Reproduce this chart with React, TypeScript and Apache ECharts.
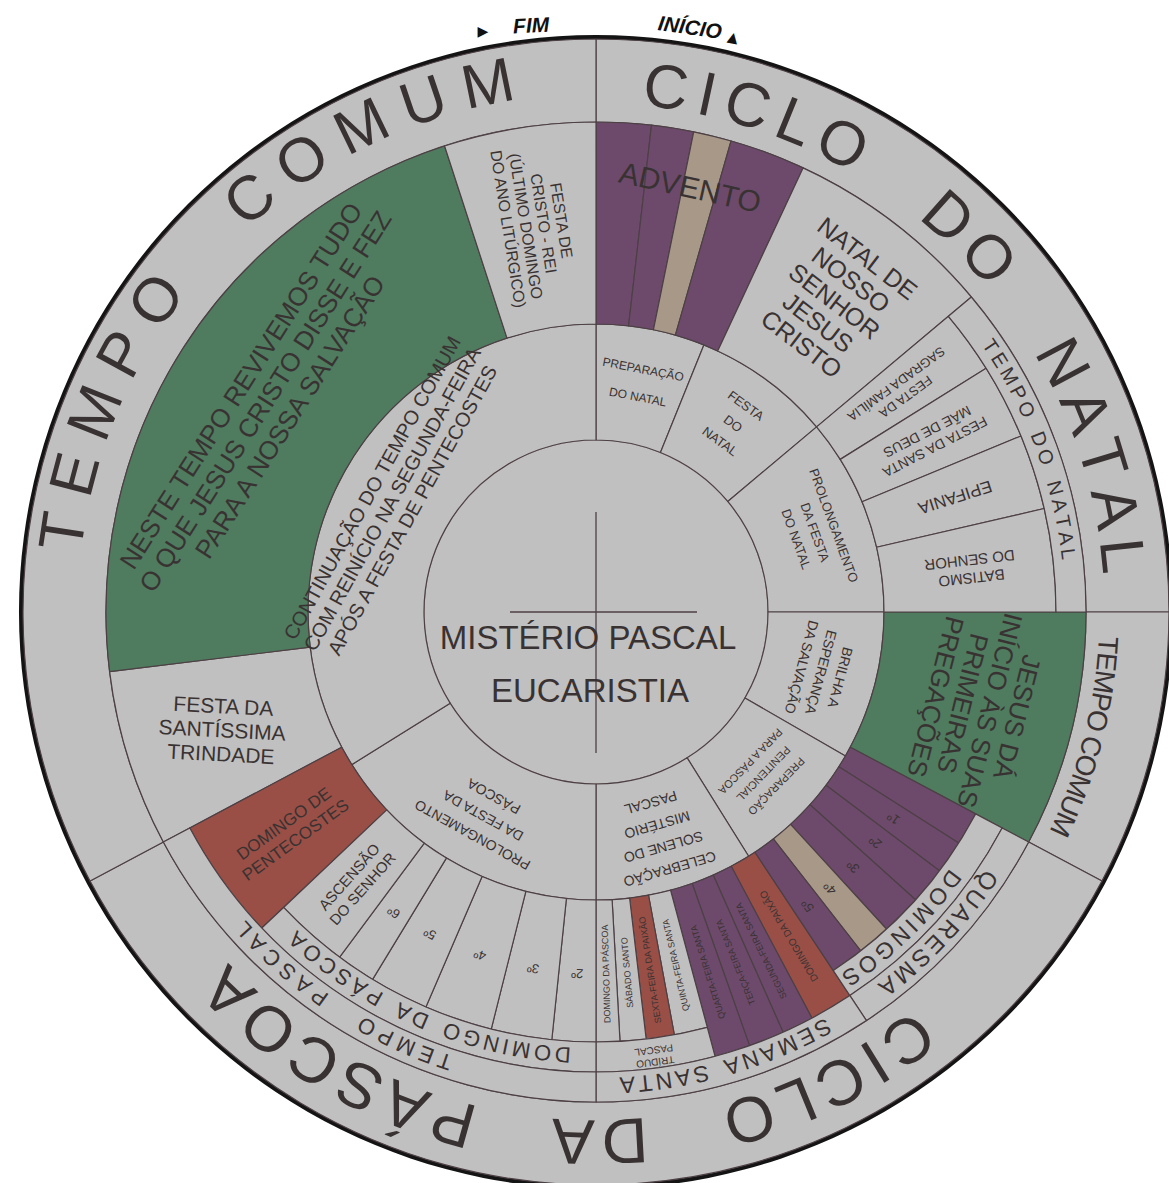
import React, { useEffect, useRef } from "react";
import * as echarts from "echarts";

// ---------------- DATA (angles in degrees, clockwise from the top) ----------------
const ring2Bounds = [0, 22, 50, 90, 120, 148, 180, 238, 360];
const ring2Labels = [
  "PREPARAÇÃO\nDO NATAL",
  "FESTA\nDO\nNATAL",
  "PROLONGAMENTO\nDA FESTA\nDO NATAL",
  "BRILHA A\nESPERANÇA\nDA SALVAÇÃO",
  "PREPARAÇÃO\nPENITENCIAL\nPARA A PÁSCOA",
  "CELEBRAÇÃO\nSOLENE DO\nMISTÉRIO\nPASCAL",
  "PROLONGAMENTO\nDA FESTA DA\nPÁSCOA",
  "CONTINUAÇÃO DO TEMPO COMUM\nCOM REINÍCIO NA SEGUNDA-FEIRA\nAPÓS A FESTA DE PENTECOSTES",
];

const mainBounds = [0, 6.5, 11.5, 16, 25, 50, 90, 118, 242, 263, 342, 360];
const mainLabels = [
  "", "", "", "",
  "NATAL DE\nNOSSO\nSENHOR\nJESUS\nCRISTO",
  null,
  "JESUS DÁ\nINÍCIO ÀS SUAS\nPRIMEIRAS\nPREGAÇÕES",
  null,
  "FESTA DA\nSANTÍSSIMA\nTRINDADE",
  "NESTE TEMPO REVIVEMOS TUDO\nO QUE JESUS CRISTO DISSE E FEZ\nPARA A NOSSA SALVAÇÃO",
  "FESTA DE\nCRISTO - REI\n(ÚLTIMO DOMINGO\nDO ANO LITÚRGICO)",
];

const adventBounds = [0, 25, 360];
const adventLabels = ["ADVENTO", null];

const longBounds = [0, 50, 58, 67.5, 77, 90, 146.5, 152, 156, 160.5, 165, 226.6, 242, 360];
const longLabels = [
  null,
  "FESTA DA\nSAGRADA FAMÍLIA",
  "FESTA DA SANTA\nMÃE DE DEUS",
  "EPIFANIA",
  "BATISMO\nDO SENHOR",
  null,
  "DOMINGO DA PAIXÃO",
  "SEGUNDA-FEIRA SANTA",
  "TERÇA-FEIRA SANTA",
  "QUARTA-FEIRA SANTA",
  null,
  "DOMINGO DE\nPENTECOSTES",
  null,
];

const shortBounds = [0, 118, 122.5, 127, 132, 137.5, 142, 146.5, 165, 169.5, 173.3, 176.8, 180, 185.9, 194.1, 203.3, 211.3, 216.6, 226.6, 360];
const shortLabels = [
  null,
  "QUARTA-FEIRA\nDE CINZAS", "1º", "2º", "3º", "4º", "5º",
  null,
  "QUINTA-FEIRA SANTA", "SEXTA-FEIRA DA PAIXÃO", "SÁBADO SANTO", "DOMINGO DA PÁSCOA",
  "2º", "3º", "4º", "5º", "6º", "ASCENSÃO\nDO SENHOR",
  null,
];

const bandInBounds = [0, 118, 146.5, 165, 180, 226.6, 360];
const bandInLabels = [null, "DOMINGOS", null, "TRÍDUO\nPASCAL", "DOMINGO DA PÁSCOA", null];

const bandOutBounds = [0, 50, 90, 118, 146.5, 180, 242, 360];
const bandOutLabels = [null, "TEMPO DO NATAL", null, "QUARESMA", "SEMANA SANTA", "TEMPO PASCAL", null];

const outerBounds = [0, 90, 118, 242, 360];
const outerLabels = ["CICLO DO NATAL", "TEMPO COMUM", "CICLO DA PÁSCOA", "TEMPO COMUM"];

const centerLabels = ["MISTÉRIO PASCAL", "EUCARISTIA"];
const markLabels = ["FIM", "INÍCIO"];

// ---------------- STYLES ----------------
const CX = 596;
const CY = 612;
const GRAY = "#c1c0c0";
const PURPLE = "#6d4a6c";
const GREEN = "#4f7b5f";
const BEIGE = "#a89888";
const RED = "#9a4f46";
const LINE = "#4d4045";
const TEXT = "#393232";
const NARROW = "'Liberation Sans Narrow', 'Liberation Sans', Arial, sans-serif";
const SANS = "'Liberation Sans', Arial, sans-serif";

type St = { c?: string; fs?: number; lh?: number; o?: string | number; arc?: number[]; nob?: boolean } | null;

const ring2Style: St[] = [
  { fs: 12, lh: 28, o: "t" },
  { fs: 13, lh: 22, o: "t" },
  { fs: 13, lh: 20, o: "t" },
  { fs: 14, lh: 20, o: "t" },
  { fs: 11, lh: 18, o: "t" },
  { fs: 14, lh: 23, o: "t" },
  { fs: 14, lh: 22, o: "t" },
  { fs: 20, lh: 23, o: "t" },
];
const mainStyle: St[] = [
  { c: PURPLE }, { c: PURPLE }, { c: BEIGE }, { c: PURPLE },
  { fs: 25, lh: 27, o: "t" },
  null,
  { c: GREEN, fs: 26, lh: 28, o: "t" },
  null,
  { fs: 21, lh: 24, o: -3 },
  { c: GREEN, fs: 26, lh: 29, o: "t" },
  { fs: 16, lh: 18, o: "r" },
];
const adventStyle: St[] = [{ c: "rgba(0,0,0,0)", fs: 30, o: "t", nob: true }, null];
const longStyle: St[] = [
  null,
  { fs: 13, lh: 16, o: "r" },
  { fs: 14, lh: 17, o: "r" },
  { fs: 17, o: "r" },
  { fs: 15, lh: 18, o: "r" },
  null,
  { c: RED, fs: 10, o: "r" },
  { c: PURPLE, fs: 9, o: "r" },
  { c: PURPLE, fs: 9, o: "r" },
  { c: PURPLE, fs: 9, o: "r" },
  null,
  { c: RED, fs: 17, lh: 20, o: "r" },
  null,
];
const shortStyle: St[] = [
  null,
  { c: PURPLE, fs: 10, lh: 12, o: "r" },
  { c: PURPLE, fs: 13, o: "r" },
  { c: PURPLE, fs: 13, o: "r" },
  { c: PURPLE, fs: 13, o: "r" },
  { c: BEIGE, fs: 13, o: "r" },
  { c: PURPLE, fs: 13, o: "r" },
  null,
  { fs: 9, o: "r" },
  { c: RED, fs: 9, o: "r" },
  { fs: 9, o: "r" },
  { fs: 9, o: "r" },
  { fs: 13, o: "t" },
  { fs: 13, o: "t" },
  { fs: 13, o: "t" },
  { fs: 13, o: "t" },
  { fs: 13, o: "t" },
  { fs: 15, lh: 18, o: "r" },
  null,
];
// arc: [textRadius, fontSize, firstLetterDeg, lastLetterDeg, wordGapWeight]
const bandInStyle: St[] = [
  null,
  { arc: [445, 23, 127, 145, 1] },
  null,
  { fs: 10, lh: 12, o: "t" },
  { arc: [444, 22, 184.3, 222.3, 1.5] },
  null,
];
const bandOutStyle: St[] = [
  null,
  { arc: [476, 20, 56, 83, 1.5] },
  null,
  { arc: [475, 24, 124.5, 142, 1] },
  { arc: [474, 23, 151.4, 176.2, 1.5] },
  { arc: [474, 22, 198.6, 228, 3] },
  null,
];
const outerStyle: St[] = [
  { arc: [530, 62, 7.6, 83.9, 3] },
  { arc: [513, 28, 93.7, 114.5, 1.5] },
  { arc: [530, 64, 143.9, 224, 4] },
  { arc: [540, 62, 278.6, 348.4, 2] },
];

function rot(o: any, mid: number) {
  if (typeof o === "number") return o;
  let r = o === "r" ? -(90 + mid) : -mid;
  while (r <= -180) r += 360;
  while (r > 180) r -= 360;
  return r;
}

function ringSeries(id: string, r0: number, r1: number, bounds: number[], labels: (string | null)[], styles: St[]) {
  const data: any[] = [];
  for (let i = 0; i < labels.length; i++) {
    const span = bounds[i + 1] - bounds[i];
    const mid = (bounds[i] + bounds[i + 1]) / 2;
    const lab = labels[i];
    const st = styles[i] || {};
    if (lab === null) {
      data.push({
        value: span,
        name: id + "-gap-" + i,
        itemStyle: { color: "rgba(0,0,0,0)", borderWidth: 0 },
        label: { show: false },
      });
    } else {
      const fs = st.fs || 12;
      data.push({
        value: span,
        name: lab,
        itemStyle: st.nob
          ? { color: st.c, borderWidth: 0 }
          : { color: st.c || GRAY },
        label: {
          show: !!lab && !st.arc,
          fontSize: fs,
          lineHeight: st.lh || Math.round(fs * 1.2),
          rotate: rot(st.o || "t", mid),
        },
      });
    }
  }
  return {
    type: "pie",
    id,
    radius: [r0, r1],
    center: [CX, CY],
    startAngle: 90,
    clockwise: true,
    silent: true,
    avoidLabelOverlap: false,
    minAngle: 0,
    animation: false,
    emphasis: { disabled: true },
    label: {
      show: true,
      position: "inside",
      formatter: "{b}",
      color: TEXT,
      fontFamily: NARROW,
      fontWeight: "normal",
      align: "center",
    },
    labelLine: { show: false },
    itemStyle: { borderColor: LINE, borderWidth: 1.2 },
    data,
  };
}

let measureCtx: CanvasRenderingContext2D | null = null;
function arcLetters(text: string, spec: number[], font: string, color: string) {
  const [r, fs, a0, a1, ws] = spec;
  if (!measureCtx) measureCtx = document.createElement("canvas").getContext("2d");
  const ctx = measureCtx!;
  ctx.font = `${fs}px ${font}`;
  const chars = Array.from(text);
  const w = chars.map((ch) => ctx.measureText(ch).width);
  let nat = 0;
  let weights = 0;
  const gw: number[] = [];
  for (let i = 0; i < chars.length - 1; i++) {
    nat += (w[i] + w[i + 1]) / 2;
    const wt = chars[i] === " " || chars[i + 1] === " " ? ws : 1;
    gw.push(wt);
    weights += wt;
  }
  const D = ((a1 - a0) * Math.PI / 180) * r;
  const extra = weights > 0 ? (D - nat) / weights : 0;
  let s = (a0 * Math.PI / 180) * r;
  const els: any[] = [];
  for (let i = 0; i < chars.length; i++) {
    if (i > 0) s += (w[i - 1] + w[i]) / 2 + extra * gw[i - 1];
    if (chars[i] === " ") continue;
    const th = s / r;
    els.push({
      type: "text",
      x: CX + r * Math.sin(th),
      y: CY - r * Math.cos(th),
      rotation: -th,
      z: 100,
      silent: true,
      style: {
        text: chars[i],
        fontSize: fs,
        fontFamily: font,
        fill: color,
        align: "center",
        verticalAlign: "middle",
        textAlign: "center",
        textVerticalAlign: "middle",
      },
    });
  }
  return els;
}

function arcTexts(labels: (string | null)[], styles: St[], font: string) {
  const out: any[] = [];
  labels.forEach((lab, i) => {
    const st = styles[i];
    if (lab && st && st.arc) out.push(...arcLetters(lab, st.arc, font, TEXT));
  });
  return out;
}

function txt(text: string, x: number, y: number, fs: number, extra: any = {}) {
  return {
    type: "text",
    x,
    y,
    z: 100,
    silent: true,
    rotation: extra.rotation || 0,
    style: {
      text,
      fontSize: fs,
      fontFamily: extra.font || SANS,
      fontWeight: extra.weight || "normal",
      fontStyle: extra.style || "normal",
      fill: extra.fill || TEXT,
      align: "center",
      verticalAlign: "middle",
      textAlign: "center",
      textVerticalAlign: "middle",
    },
  };
}

export default function App() {
  const ref = useRef<HTMLDivElement>(null);
  useEffect(() => {
    if (!ref.current) return;
    const chart = echarts.init(ref.current, null, { renderer: "svg" });
    const graphics: any[] = [
      ...arcTexts(outerLabels, outerStyle, SANS),
      ...arcTexts(bandOutLabels, bandOutStyle, SANS),
      ...arcTexts(bandInLabels, bandInStyle, SANS),
      // center cross
      { type: "line", z: 100, silent: true, shape: { x1: CX, y1: CY - 100, x2: CX, y2: CY + 141 }, style: { stroke: LINE, lineWidth: 1.3 } },
      { type: "line", z: 100, silent: true, shape: { x1: CX - 86, y1: CY, x2: CX + 101, y2: CY }, style: { stroke: LINE, lineWidth: 1.3 } },
      txt(centerLabels[0], CX - 8, CY + 25, 33),
      txt(centerLabels[1], CX - 6, CY + 78, 33),
      // start / end marks
      txt(markLabels[0], 531, 25, 21, { weight: "bold", style: "italic", fill: "#111", rotation: 0.05 }),
      txt(markLabels[1], 690, 27, 21, { weight: "bold", style: "italic", fill: "#111", rotation: -0.14 }),
      txt("▶", 483, 31, 14, { fill: "#111", font: "'DejaVu Sans', sans-serif" }),
      txt("▲", 733, 37, 14, { fill: "#111", font: "'DejaVu Sans', sans-serif", rotation: -0.2 }),
    ];
    const option: any = {
      animation: false,
      backgroundColor: "#ffffff",
      textStyle: { fontFamily: SANS },
      series: [
        {
          type: "pie",
          id: "border",
          radius: [572, 577],
          center: [CX, CY],
          silent: true,
          animation: false,
          label: { show: false },
          labelLine: { show: false },
          itemStyle: { color: "#141414", borderWidth: 0 },
          data: [{ value: 1, name: "borda" }],
        },
        ringSeries("outer", 490, 573, outerBounds, outerLabels, outerStyle),
        {
          type: "pie",
          id: "center",
          radius: [0, 172],
          center: [CX, CY],
          silent: true,
          animation: false,
          label: { show: false },
          labelLine: { show: false },
          itemStyle: { color: GRAY, borderColor: "#8a7a72", borderWidth: 1.2 },
          data: [{ value: 1, name: centerLabels.join(" ") }],
        },
        ringSeries("ring2", 172, 288, ring2Bounds, ring2Labels, ring2Style),
        ringSeries("main", 288, 490, mainBounds, mainLabels, mainStyle),
        ringSeries("long", 288, 460, longBounds, longLabels, longStyle),
        ringSeries("short", 288, 430, shortBounds, shortLabels, shortStyle),
        ringSeries("bandIn", 430, 460, bandInBounds, bandInLabels, bandInStyle),
        ringSeries("bandOut", 460, 490, bandOutBounds, bandOutLabels, bandOutStyle),
        ringSeries("advent", 380, 484, adventBounds, adventLabels, adventStyle),
      ],
      graphic: { elements: graphics },
    };
    chart.setOption(option);
    return () => chart.dispose();
  }, []);
  return (
    <div
      ref={ref}
      style={{ position: "fixed", left: 0, top: 0, width: 1169, height: 1183, background: "#fff" }}
    />
  );
}
